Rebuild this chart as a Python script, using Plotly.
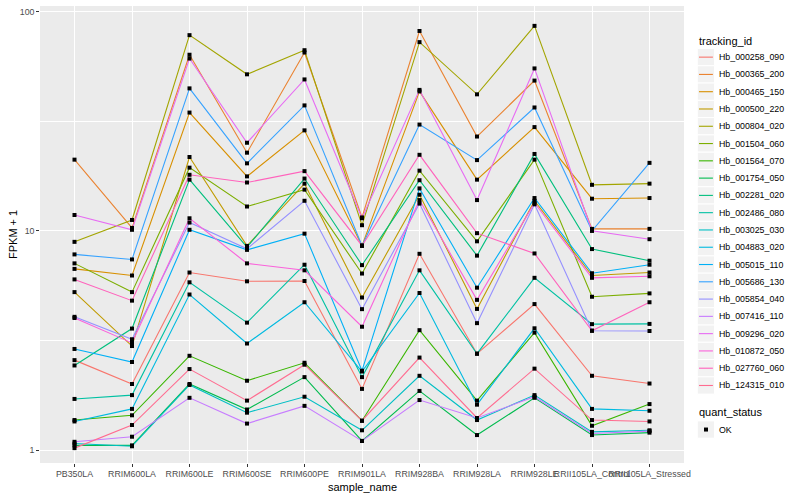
import plotly.graph_objects as go

# ---------------- data ----------------
samples = ["PB350LA", "RRIM600LA", "RRIM600LE", "RRIM600SE", "RRIM600PE", "RRIM901LA",
           "RRIM928BA", "RRIM928LA", "RRIM928LE", "RRII105LA_Control", "RRII105LA_Stressed"]

tracking_ids = ["Hb_000258_090", "Hb_000365_200", "Hb_000465_150", "Hb_000500_220",
                "Hb_000804_020", "Hb_001504_060", "Hb_001564_070", "Hb_001754_050",
                "Hb_002281_020", "Hb_002486_080", "Hb_003025_030", "Hb_004883_020",
                "Hb_005015_110", "Hb_005686_130", "Hb_005854_040", "Hb_007416_110",
                "Hb_009296_020", "Hb_010872_050", "Hb_027760_060", "Hb_124315_010"]

hb_000258_090 = [2.57, 2.0, 6.45, 5.88, 5.9, 1.90, 7.85, 2.75, 4.63, 2.18, 2.01]
hb_000365_200 = [21.1, 10.3, 63.5, 22.7, 65.0, 11.5, 81.5, 26.9, 48.4, 10.2, 10.2]
hb_000465_150 = [6.7, 6.25, 34.6, 17.7, 28.7, 8.55, 43.2, 17.1, 29.7, 14.0, 14.1]
hb_000500_220 = [5.25, 2.98, 21.7, 8.53, 16.4, 4.96, 14.6, 4.4, 13.7, 6.25, 6.45]
hb_000804_020 = [8.9, 11.2, 78.0, 51.7, 66.6, 10.6, 72.5, 41.9, 86.0, 16.2, 16.4]
hb_001504_060 = [7.1, 5.25, 19.4, 12.9, 15.4, 6.38, 18.8, 8.95, 21.1, 5.0, 5.18]
hb_001564_070 = [1.37, 1.44, 2.69, 2.07, 2.5, 1.36, 3.52, 1.68, 3.43, 1.29, 1.62]
hb_001754_050 = [1.05, 1.05, 2.0, 1.53, 2.15, 1.10, 1.86, 1.17, 1.73, 1.17, 1.20]
hb_002281_020 = [2.43, 3.58, 17.1, 8.42, 17.3, 6.97, 17.0, 7.7, 22.4, 8.25, 7.3]
hb_002486_080 = [1.71, 1.78, 5.82, 3.81, 7.0, 2.15, 6.6, 2.75, 6.1, 3.75, 3.76]
hb_003025_030 = [1.07, 1.04, 1.98, 1.48, 1.75, 1.23, 2.18, 1.37, 1.78, 1.21, 1.23]
hb_004883_020 = [1.35, 1.54, 5.12, 3.06, 4.72, 2.28, 5.2, 1.61, 3.59, 1.54, 1.51]
hb_005015_110 = [2.89, 2.52, 10.1, 8.18, 9.7, 2.30, 15.6, 5.5, 14.1, 6.4, 7.0]
hb_005686_130 = [7.8, 7.4, 44.6, 20.3, 37.3, 8.55, 30.5, 21.0, 36.5, 10.0, 20.4]
hb_005854_040 = [4.05, 3.2, 10.9, 8.27, 13.7, 4.39, 13.3, 3.79, 13.2, 3.5, 3.49]
hb_007416_110 = [1.09, 1.15, 1.73, 1.32, 1.59, 1.10, 1.69, 1.40, 1.75, 1.19, 1.22]
hb_009296_020 = [11.8, 10.1, 61.0, 25.2, 49.0, 11.4, 43.9, 13.8, 55.0, 10.0, 9.15]
hb_010872_050 = [4.0, 3.08, 11.4, 7.1, 6.6, 3.65, 13.8, 4.84, 13.4, 6.1, 6.2]
hb_027760_060 = [6.0, 4.8, 18.0, 16.6, 18.7, 8.55, 22.2, 9.75, 7.88, 3.5, 4.72]
hb_124315_010 = [1.02, 1.30, 2.34, 1.68, 2.45, 1.36, 2.64, 1.40, 2.35, 1.37, 1.35]

series = [hb_000258_090, hb_000365_200, hb_000465_150, hb_000500_220, hb_000804_020,
          hb_001504_060, hb_001564_070, hb_001754_050, hb_002281_020, hb_002486_080,
          hb_003025_030, hb_004883_020, hb_005015_110, hb_005686_130, hb_005854_040,
          hb_007416_110, hb_009296_020, hb_010872_050, hb_027760_060, hb_124315_010]

quant_status = ["OK"]

y_tick_vals = [1, 10, 100]
y_tick_text = ["1", "10", "100"]

# ---------------- style ----------------
colors = ["#F8766D", "#EA8331", "#D89000", "#C09B00", "#A3A500", "#7CAE00", "#39B600",
          "#00BB4E", "#00BF7D", "#00C1A3", "#00BFC4", "#00BAE0", "#00B0F6", "#35A2FF",
          "#9590FF", "#C77CFF", "#E76BF3", "#FA62DB", "#FF62BC", "#FF6C90"]

FONT = "Liberation Sans, Arial, Helvetica, sans-serif"
W_PX, H_PX = 800, 500
L, R, T, B = 40, 684, 5.5, 463.0
PW, PH = R - L, B - T


def px(x):
    return (x - L) / PW


def py(y):
    return (B - y) / PH


fig = go.Figure()

for name, vals, col in zip(tracking_ids, series, colors):
    fig.add_trace(go.Scatter(x=samples, y=vals, mode="lines", name=name,
                             line=dict(color=col, width=1.1), showlegend=False,
                             hoverinfo="skip"))

all_x = [s for vals in series for s in samples]
all_y = [v for vals in series for v in vals]
fig.add_trace(go.Scatter(x=all_x, y=all_y, mode="markers", name=quant_status[0],
                         marker=dict(symbol="square", size=4, color="black",
                                     line=dict(width=0)),
                         showlegend=False, hoverinfo="skip"))

# ---------------- manual ggplot-like legend ----------------
shapes = []
annotations = []
leg_x0, leg_x1 = 697.3, 714.6
txt_x = 716.7
annotations.append(dict(x=px(697.3), y=py(40.7), xref="paper", yref="paper",
                        text="tracking_id", showarrow=False, xanchor="left",
                        yanchor="middle", font=dict(size=11, color="black", family=FONT)))
for i, (name, col) in enumerate(zip(tracking_ids, colors)):
    yc = 56.7 + i * 17.3
    shapes.append(dict(type="rect", xref="paper", yref="paper",
                       x0=px(leg_x0), x1=px(leg_x1), y0=py(yc + 8.65), y1=py(yc - 8.65),
                       fillcolor="#F2F2F2", line=dict(color="white", width=1), layer="above"))
    shapes.append(dict(type="line", xref="paper", yref="paper",
                       x0=px(699.0), x1=px(712.9), y0=py(yc), y1=py(yc),
                       line=dict(color=col, width=1.1), layer="above"))
    annotations.append(dict(x=px(txt_x), y=py(yc), xref="paper", yref="paper",
                            text=name, showarrow=False, xanchor="left", yanchor="middle",
                            font=dict(size=8.8, color="black", family=FONT)))

annotations.append(dict(x=px(697.3), y=py(412.3), xref="paper", yref="paper",
                        text="quant_status", showarrow=False, xanchor="left",
                        yanchor="middle", font=dict(size=11, color="black", family=FONT)))
yc = 429.5
shapes.append(dict(type="rect", xref="paper", yref="paper",
                   x0=px(leg_x0), x1=px(leg_x1), y0=py(yc + 8.65), y1=py(yc - 8.65),
                   fillcolor="#F2F2F2", line=dict(color="white", width=1), layer="above"))
shapes.append(dict(type="rect", xref="paper", yref="paper",
                   x0=px(704.0), x1=px(708.0), y0=py(yc + 2), y1=py(yc - 2),
                   fillcolor="black", line=dict(width=0), layer="above"))
annotations.append(dict(x=px(txt_x), y=py(yc), xref="paper", yref="paper",
                        text=quant_status[0], showarrow=False, xanchor="left",
                        yanchor="middle", font=dict(size=8.8, color="black", family=FONT)))

# axis titles
annotations.append(dict(x=0.5, y=py(487.5), xref="paper", yref="paper", text="sample_name",
                        showarrow=False, xanchor="center", yanchor="middle",
                        font=dict(size=11, color="black", family=FONT)))
annotations.append(dict(x=px(12.5), y=0.5, xref="paper", yref="paper", text="FPKM + 1",
                        showarrow=False, xanchor="center", yanchor="middle", textangle=-90,
                        font=dict(size=11, color="black", family=FONT)))

fig.update_layout(
    width=W_PX, height=H_PX,
    margin=dict(l=L, r=W_PX - R, t=T, b=H_PX - B, pad=0),
    paper_bgcolor="white", plot_bgcolor="#EBEBEB",
    font=dict(family=FONT, color="#4D4D4D"),
    showlegend=False, hovermode=False,
    shapes=shapes, annotations=annotations,
)
fig.update_xaxes(type="category", categoryorder="array", categoryarray=samples,
                 range=[-0.6, len(samples) - 0.4], showgrid=True, gridcolor="white",
                 gridwidth=1.07, zeroline=False, showline=False, ticks="outside",
                 ticklen=2.75, tickwidth=1, tickcolor="#333333", tickangle=0,
                 tickfont=dict(size=8.8, color="#4D4D4D", family=FONT), automargin=False)
fig.update_yaxes(type="log", range=[(450 - B) / 219.5, (450 - T) / 219.5],
                 tickmode="array", tickvals=y_tick_vals, ticktext=y_tick_text,
                 showgrid=True, gridcolor="white", gridwidth=1.07, zeroline=False,
                 showline=False, ticks="outside", ticklen=2.75, tickwidth=1,
                 tickcolor="#333333",
                 tickfont=dict(size=8.8, color="#4D4D4D", family=FONT), automargin=False,
                 minor=dict(tickmode="array", tickvals=[10 ** 0.5, 10 ** 1.5], showgrid=True,
                            gridcolor="white", gridwidth=0.53, ticks=""))

fig.write_html("out.html", config={"displayModeBar": False},
               post_script="document.body.style.margin='0';document.body.style.overflow='hidden';")
